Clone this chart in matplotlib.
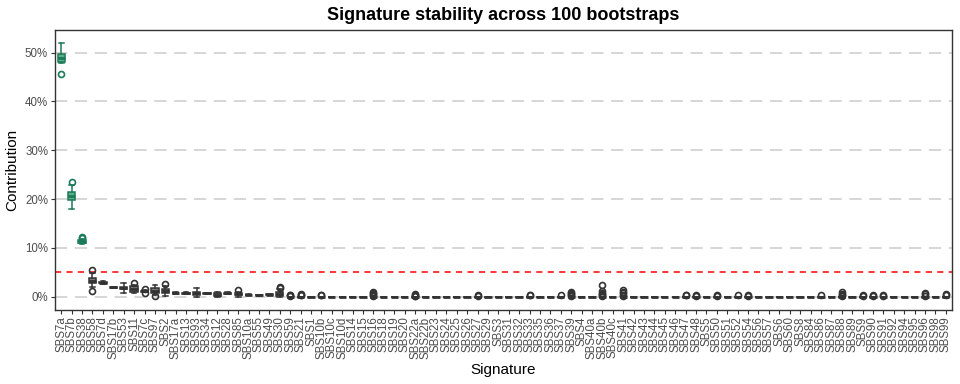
import matplotlib

matplotlib.use("Agg")
import matplotlib.pyplot as plt
from matplotlib.ticker import FuncFormatter

plt.rcParams["font.family"] = ["Liberation Sans", "DejaVu Sans"]

GREEN_EDGE = "#1B7A58"
GREEN_FILL = "#5FAE88"
GREY_EDGE = "#333333"
GREY_FILL = "#7A7A7A"
TEXT_GREY = "#4D4D4D"

# signatures in plotted order (ranked by median contribution)
SIGNATURES = [
    "SBS7a", "SBS7b", "SBS38", "SBS58", "SBS7d", "SBS17b", "SBS53", "SBS11", "SBS7c", "SBS97",
    "SBS2", "SBS17a", "SBS13", "SBS93", "SBS34", "SBS12", "SBS28", "SBS85", "SBS10a", "SBS55",
    "SBS49", "SBS30", "SBS59", "SBS21", "SBS1", "SBS10b", "SBS10c", "SBS10d", "SBS14", "SBS15",
    "SBS16", "SBS18", "SBS19", "SBS20", "SBS22a", "SBS22b", "SBS23", "SBS24", "SBS25", "SBS26",
    "SBS27", "SBS29", "SBS3", "SBS31", "SBS32", "SBS33", "SBS35", "SBS36", "SBS37", "SBS39",
    "SBS4", "SBS40a", "SBS40b", "SBS40c", "SBS41", "SBS42", "SBS43", "SBS44", "SBS45", "SBS46",
    "SBS47", "SBS48", "SBS5", "SBS50", "SBS51", "SBS52", "SBS54", "SBS56", "SBS57", "SBS6",
    "SBS60", "SBS8", "SBS84", "SBS86", "SBS87", "SBS88", "SBS89", "SBS9", "SBS90", "SBS91",
    "SBS92", "SBS94", "SBS95", "SBS96", "SBS98", "SBS99",
]

# box statistics, contribution in %
WHISK_LO = [
    47.8, 18.0, 10.7, 2.0, 2.55, 1.75, 0.7, 0.7, 0.9, 0.4,
    0.05, 0.65, 0.5, 0.0, 0.55, 0.0, 0.5, 0.0, 0.3, 0.2,
    0.3, 0.0, 0, 0, 0, 0, 0, 0, 0, 0,
    0, 0, 0, 0, 0, 0, 0, 0, 0, 0,
    0, 0, 0, 0, 0, 0, 0, 0, 0, 0,
    0, 0, 0, 0, 0, 0, 0, 0, 0, 0,
    0, 0, 0, 0, 0, 0, 0, 0, 0, 0,
    0, 0, 0, 0, 0, 0, 0, 0, 0, 0,
    0, 0, 0, 0, 0, 0,
]
Q1 = [
    48.1, 19.8, 11.0, 2.8, 2.75, 1.85, 1.5, 1.0, 1.0, 0.8,
    0.7, 0.75, 0.6, 0.4, 0.62, 0.2, 0.6, 0.3, 0.35, 0.25,
    0.35, 0.2, 0, 0, 0, 0, 0, 0, 0, 0,
    0, 0, 0, 0, 0, 0, 0, 0, 0, 0,
    0, 0, 0, 0, 0, 0, 0, 0, 0, 0,
    0, 0, 0, 0, 0, 0, 0, 0, 0, 0,
    0, 0, 0, 0, 0, 0, 0, 0, 0, 0,
    0, 0, 0, 0, 0, 0, 0, 0, 0, 0,
    0, 0, 0, 0, 0, 0,
]
MEDIAN = [
    48.9, 20.6, 11.3, 3.3, 2.85, 1.9, 1.8, 1.6, 1.1, 1.2,
    1.1, 0.8, 0.7, 0.7, 0.7, 0.45, 0.7, 0.5, 0.4, 0.3,
    0.4, 0.5, 0, 0, 0, 0, 0, 0, 0, 0,
    0, 0, 0, 0, 0, 0, 0, 0, 0, 0,
    0, 0, 0, 0, 0, 0, 0, 0, 0, 0,
    0, 0, 0, 0, 0, 0, 0, 0, 0, 0,
    0, 0, 0, 0, 0, 0, 0, 0, 0, 0,
    0, 0, 0, 0, 0, 0, 0, 0, 0, 0,
    0, 0, 0, 0, 0, 0,
]
Q3 = [
    49.7, 21.5, 11.6, 3.9, 2.95, 1.95, 2.05, 2.2, 1.25, 1.7,
    1.6, 0.85, 0.8, 1.0, 0.76, 0.75, 0.8, 0.8, 0.45, 0.35,
    0.5, 0.9, 0, 0, 0, 0, 0, 0, 0, 0,
    0, 0, 0, 0, 0, 0, 0, 0, 0, 0,
    0, 0, 0, 0, 0, 0, 0, 0, 0, 0,
    0, 0, 0, 0, 0, 0, 0, 0, 0, 0,
    0, 0, 0, 0, 0, 0, 0, 0, 0, 0,
    0, 0, 0, 0, 0, 0, 0, 0, 0, 0,
    0, 0, 0, 0, 0, 0,
]
WHISK_HI = [
    51.9, 22.9, 11.9, 4.8, 3.2, 2.05, 2.75, 2.4, 1.35, 2.4,
    2.2, 0.95, 0.9, 1.7, 0.85, 1.0, 0.9, 1.0, 0.5, 0.4,
    0.6, 1.5, 0, 0, 0, 0, 0, 0, 0, 0,
    0, 0, 0, 0, 0, 0, 0, 0, 0, 0,
    0, 0, 0, 0, 0, 0, 0, 0, 0, 0,
    0, 0, 0, 0, 0, 0, 0, 0, 0, 0,
    0, 0, 0, 0, 0, 0, 0, 0, 0, 0,
    0, 0, 0, 0, 0, 0, 0, 0, 0, 0,
    0, 0, 0, 0, 0, 0,
]
OUTLIERS = [
    [45.6], [23.4], [12.3, 12.1], [5.4, 1.2], [], [], [], [2.75], [0.75, 1.5], [0.05],
    [2.6], [], [], [], [], [], [], [1.3], [], [],
    [], [2.0, 1.8], [0.2, 0.3, 0.4], [0.3, 0.4, 0.5], [], [0.25, 0.35], [], [], [], [],
    [0.1, 0.3, 0.5, 0.7, 0.9], [], [], [], [0.1, 0.2, 0.35, 0.5], [], [], [], [], [],
    [0.2, 0.35], [], [], [], [], [0.3, 0.4], [], [], [0.3], [0.1, 0.3, 0.5, 0.7, 0.9],
    [], [], [0.1, 0.3, 0.5, 0.8, 1.1, 2.4], [], [0.1, 0.4, 0.7, 1.0, 1.3], [], [], [], [], [],
    [0.25, 0.4], [0.2, 0.3], [], [0.2, 0.4], [], [0.3], [0.2, 0.4], [], [], [],
    [], [], [], [0.3], [], [0.1, 0.3, 0.6, 0.9], [], [0.2, 0.4], [0.2, 0.4], [0.2, 0.4],
    [], [], [], [0.2, 0.5, 0.7], [], [0.3, 0.5],
]
HIGHLIGHT = ["SBS7a", "SBS7b", "SBS38"]
THRESHOLD = 5
Y_TICKS = [0, 10, 20, 30, 40, 50]

stats = []
for i, name in enumerate(SIGNATURES):
    stats.append({
        "label": name, "whislo": WHISK_LO[i], "q1": Q1[i], "med": MEDIAN[i],
        "q3": Q3[i], "whishi": WHISK_HI[i], "fliers": OUTLIERS[i],
    })

fig = plt.figure(figsize=(9.6, 3.84), dpi=100)
ax = fig.add_axes([0.0573, 0.194, 0.9344, 0.728])

for y in Y_TICKS:
    ax.axhline(y, color="#CCCCCC", linewidth=1.1, dashes=(8, 5), zorder=0)
ax.axhline(THRESHOLD, color="red", linewidth=1.1, dashes=(4, 3.5), zorder=1)

for i, st in enumerate(stats):
    green = st["label"] in HIGHLIGHT
    edge = GREEN_EDGE if green else GREY_EDGE
    fill = GREEN_FILL if green else GREY_FILL
    ax.bxp(
        [st], positions=[i], widths=0.7, patch_artist=True, manage_ticks=False,
        boxprops=dict(facecolor=fill, edgecolor=edge, linewidth=1.1),
        medianprops=dict(color=edge, linewidth=2.0),
        whiskerprops=dict(color=edge, linewidth=1.1),
        capprops=dict(color=edge, linewidth=1.1),
        capwidths=0.45,
        flierprops=dict(marker="o", markerfacecolor="none", markeredgecolor=edge,
                        markersize=4.3, markeredgewidth=1.2),
        zorder=3,
    )

ax.set_xlim(-0.6, len(SIGNATURES) - 0.4)
ax.set_ylim(-2.62, 54.65)
ax.set_xticks(range(len(SIGNATURES)))
ax.set_xticklabels(SIGNATURES, rotation=90, fontsize=8.3, color=TEXT_GREY)
ax.set_yticks(Y_TICKS)
ax.yaxis.set_major_formatter(FuncFormatter(lambda v, p: f"{v:.0f}%"))
ax.tick_params(axis="y", labelsize=8.3, labelcolor=TEXT_GREY)
ax.tick_params(length=3, width=0.8, color="#333333", pad=2)
for spine in ax.spines.values():
    spine.set_color("#333333")
    spine.set_linewidth(1.0)

ax.set_xlabel("Signature", fontsize=11, labelpad=3)
ax.set_ylabel("Contribution", fontsize=11, labelpad=4)
ax.set_title("Signature stability across 100 bootstraps", fontsize=13, fontweight="bold", pad=7)

fig.savefig("out.png", dpi=100)
